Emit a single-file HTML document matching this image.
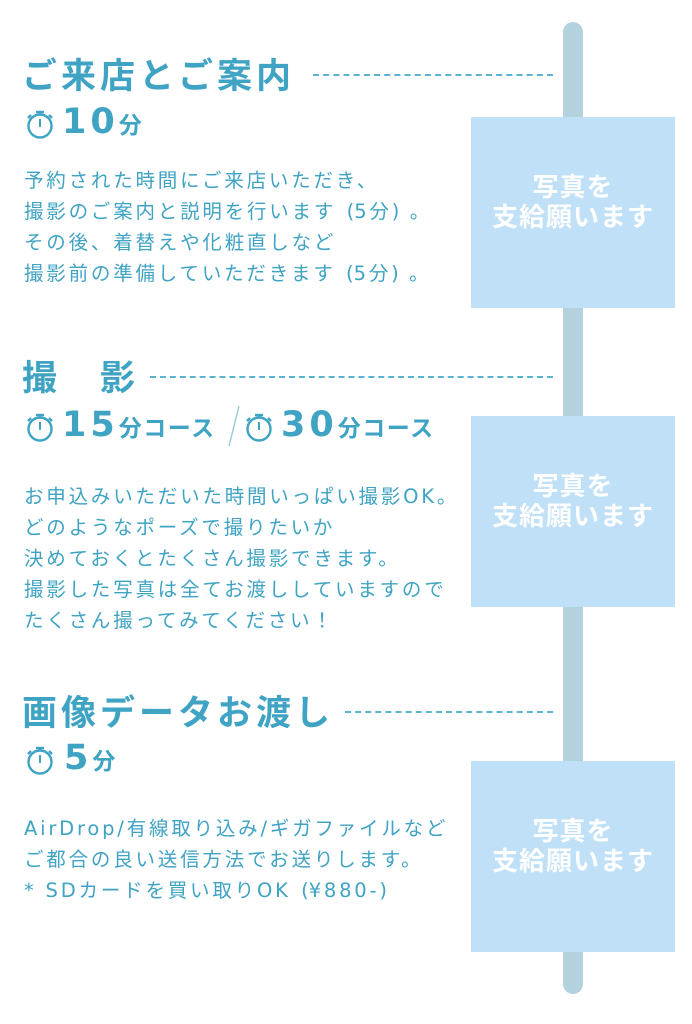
<!DOCTYPE html>
<html><head><meta charset="utf-8"><style>
body{margin:0;width:692px;height:1024px;background:#fff;position:relative;overflow:hidden;font-family:"DejaVu Sans","Liberation Sans","Noto Sans CJK JP",sans-serif;color:#3fa3c4}
.a{position:absolute;white-space:nowrap}
.bar{position:absolute;left:563px;top:22px;width:20px;height:972px;background:#b3d2de;border-radius:10px}
.box{position:absolute;left:471px;width:204px;height:191px;box-sizing:border-box;padding-bottom:24px;background:#bfe0f6;color:#fff;font-weight:bold;font-size:26px;line-height:30px;display:flex;align-items:center;justify-content:center;text-align:center;font-family:"Noto Sans CJK JP",sans-serif;letter-spacing:1px}
.h{font-size:35px;font-weight:bold;letter-spacing:4px;font-family:"Noto Sans CJK JP",sans-serif;line-height:40px}
.d{position:absolute;border-top:2px dashed #5ab3d1;height:0}
.t{font-size:19.5px;line-height:31px;letter-spacing:2.8px}
.o{display:inline-block;width:18px;text-align:right;letter-spacing:0}
.c{display:inline-block;width:18px;text-align:left;letter-spacing:0}
.n{font-size:35px;font-weight:bold;letter-spacing:4px;font-family:"DejaVu Sans",sans-serif}
.f{font-size:23px;font-weight:bold;font-family:"Noto Sans CJK JP",sans-serif;letter-spacing:1.5px}
</style></head><body>
<div class="bar"></div>
<div class="box" style="top:117px">写真を<br>支給願います</div>
<div class="box" style="top:416px">写真を<br>支給願います</div>
<div class="box" style="top:761px">写真を<br>支給願います</div>

<svg width="0" height="0" style="position:absolute"><defs><g id="tm" fill="none" stroke="#3fa3c4" stroke-width="2.4"><circle cx="14" cy="17" r="11.5"/><line x1="10" y1="3" x2="18" y2="3"/><line x1="14" y1="3" x2="14" y2="6"/><line x1="23" y1="6" x2="26" y2="9"/><line x1="5" y1="6" x2="2" y2="9"/><line x1="14" y1="10" x2="14" y2="18" stroke-width="2"/></g></defs></svg>

<div class="a h" style="left:22px;top:54px">ご来店とご案内</div>
<div class="d" style="left:313px;top:74px;width:240px"></div>
<svg class="a" style="left:26px;top:109px" width="30" height="32"><use href="#tm"/></svg>
<div class="a" style="left:62px;top:102px"><span class="n">10</span><span class="f">分</span></div>
<div class="a t" style="left:24px;top:165px">予約された時間にご来店いただき、<br>撮影のご案内と説明を行います<span class="o">(</span>5分<span class="c">)</span>。<br>その後、着替えや化粧直しなど<br>撮影前の準備していただきます<span class="o">(</span>5分<span class="c">)</span>。</div>

<div class="a h" style="left:22px;top:356px">撮　影</div>
<div class="d" style="left:150px;top:376px;width:403px"></div>
<svg class="a" style="left:26px;top:412px" width="30" height="32"><use href="#tm"/></svg>
<div class="a" style="left:62px;top:405px"><span class="n">15</span><span class="f">分コース</span></div>
<div class="a" style="left:226px;top:404px;width:16px;height:44px"><svg width="16" height="44"><line x1="13" y1="2" x2="3" y2="42" stroke="#9bcbdc" stroke-width="1.5"/></svg></div>
<svg class="a" style="left:245px;top:412px" width="30" height="32"><use href="#tm"/></svg>
<div class="a" style="left:281px;top:405px"><span class="n">30</span><span class="f">分コース</span></div>
<div class="a t" style="left:24px;top:481px">お申込みいただいた時間いっぱい撮影OK。<br>どのようなポーズで撮りたいか<br>決めておくとたくさん撮影できます。<br>撮影した写真は全てお渡ししていますので<br>たくさん撮ってみてください！</div>

<div class="a h" style="left:22px;top:691px">画像データお渡し</div>
<div class="d" style="left:345px;top:711px;width:208px"></div>
<svg class="a" style="left:26px;top:745px" width="30" height="32"><use href="#tm"/></svg>
<div class="a" style="left:64px;top:738px"><span class="n">5</span><span class="f">分</span></div>
<div class="a t" style="left:24px;top:813px">AirDrop/有線取り込み/ギガファイルなど<br>ご都合の良い送信方法でお送りします。<br>* SDカードを買い取りOK<span class="o">(</span>¥880-<span class="c">)</span></div>
</body></html>
